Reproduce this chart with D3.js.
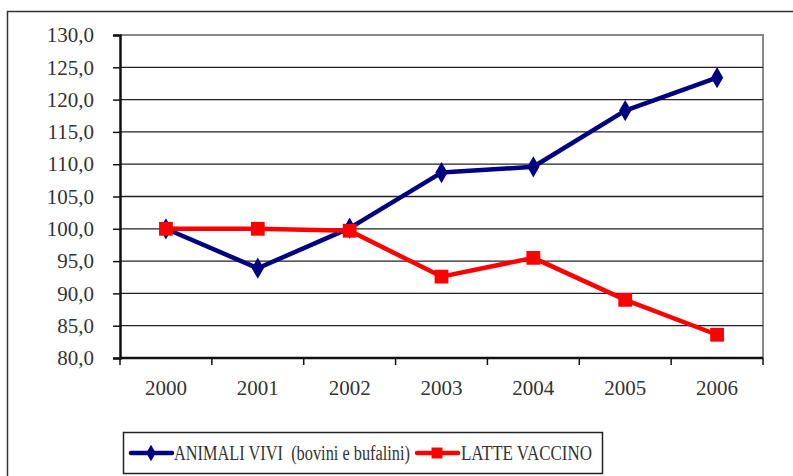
<!DOCTYPE html>
<html>
<head>
<meta charset="utf-8">
<script src="https://cdn.jsdelivr.net/npm/d3@7"></script>
<style>
  body { margin: 0; background: #fff; }
</style>
</head>
<body>
<script>
var width = 793;
var height = 476;
var font = "'Liberation Serif', 'Times New Roman', 'DejaVu Serif', serif";

var years = ["2000", "2001", "2002", "2003", "2004", "2005", "2006"];
var animaliVivi = [100.0, 93.9, 100.1, 108.7, 109.6, 118.3, 123.4];
var latteVaccino = [100.0, 100.0, 99.7, 92.6, 95.5, 89.0, 83.6];
var yTicks = [80, 85, 90, 95, 100, 105, 110, 115, 120, 125, 130];
var seriesNames = ["ANIMALI VIVI \u00a0(bovini e bufalini)", "LATTE VACCINO"];

var plot = { left: 120, top: 35, right: 763, bottom: 358 };

var svg = d3.select("body").append("svg")
    .attr("width", width)
    .attr("height", height);

// outer chart frame (runs off the right and bottom edges)
svg.append("rect")
    .attr("x", 7.5).attr("y", 11.5)
    .attr("width", 800).attr("height", 500)
    .attr("fill", "none")
    .attr("stroke", "#333")
    .attr("stroke-width", 1.5);

var xScale = d3.scaleBand()
    .domain(years)
    .range([plot.left, plot.right]);

var yScale = d3.scaleLinear()
    .domain([80, 130])
    .range([plot.bottom, plot.top]);

// plot area right/top border
svg.append("path")
    .attr("d", "M" + plot.left + "," + plot.top + "H" + plot.right + "V" + plot.bottom)
    .attr("fill", "none")
    .attr("stroke", "#888")
    .attr("stroke-width", 2);

// gridlines
svg.append("g").selectAll("line")
    .data(yTicks.slice(1, -1))
    .enter().append("line")
    .attr("x1", plot.left).attr("x2", plot.right)
    .attr("y1", function(d) { return yScale(d); })
    .attr("y2", function(d) { return yScale(d); })
    .attr("stroke", "#222")
    .attr("stroke-width", 1.3);

// y axis
var yAxis = svg.append("g")
    .attr("transform", "translate(" + plot.left + ",0)")
    .call(d3.axisLeft(yScale)
        .tickValues(yTicks)
        .tickSize(7)
        .tickPadding(19)
        .tickFormat(function(d) { return d3.format(".1f")(d).replace(".", ","); }));
yAxis.attr("font-family", font).attr("font-size", 21);
yAxis.select(".domain").attr("stroke", "#111").attr("stroke-width", 2.5);
yAxis.selectAll(".tick line").attr("stroke", "#111").attr("stroke-width", 1.5);
yAxis.selectAll("text").attr("fill", "#333");

// x axis with ticks between categories
var xAxis = svg.append("g")
    .attr("transform", "translate(0," + plot.bottom + ")");
xAxis.append("line")
    .attr("x1", plot.left).attr("x2", plot.right)
    .attr("stroke", "#111").attr("stroke-width", 2.5);
var boundaries = years.map(function(y) { return xScale(y); }).concat([plot.right]);
xAxis.selectAll(".bt")
    .data(boundaries)
    .enter().append("line")
    .attr("x1", function(d) { return d; })
    .attr("x2", function(d) { return d; })
    .attr("y1", 0).attr("y2", 7)
    .attr("stroke", "#111").attr("stroke-width", 1.5);
xAxis.selectAll("text")
    .data(years)
    .enter().append("text")
    .attr("x", function(d) { return xScale(d) + xScale.bandwidth() / 2; })
    .attr("y", 37)
    .attr("text-anchor", "middle")
    .attr("font-family", font)
    .attr("font-size", 21)
    .attr("fill", "#333")
    .text(function(d) { return d; });

var line = d3.line()
    .x(function(d, i) { return xScale(years[i]) + xScale.bandwidth() / 2; })
    .y(function(d) { return yScale(d); });

function drawSeries(values, color, symbol, size) {
    svg.append("path")
        .datum(values)
        .attr("d", line)
        .attr("fill", "none")
        .attr("stroke", color)
        .attr("stroke-width", 4.5)
        .attr("stroke-linejoin", "round");
    svg.append("g").selectAll("path")
        .data(values)
        .enter().append("path")
        .attr("transform", function(d, i) {
            return "translate(" + (xScale(years[i]) + xScale.bandwidth() / 2) + "," + yScale(d) + ")";
        })
        .attr("d", d3.symbol().type(symbol).size(size))
        .attr("fill", color);
}

drawSeries(animaliVivi, "#000080", d3.symbolDiamond, 130);
drawSeries(latteVaccino, "#ff0000", d3.symbolSquare, 190);

// legend
var legend = svg.append("g");
legend.append("rect")
    .attr("x", 123.5).attr("y", 432.5)
    .attr("width", 479).attr("height", 41)
    .attr("fill", "#fff")
    .attr("stroke", "#222")
    .attr("stroke-width", 1.5);

var legendItems = [
    { name: seriesNames[0], color: "#000080", symbol: d3.symbolDiamond, size: 80, x: 131, tx: 174, len: 236 },
    { name: seriesNames[1], color: "#ff0000", symbol: d3.symbolSquare, size: 120, x: 417, tx: 461, len: 131 }
];
var li = legend.selectAll(".li")
    .data(legendItems)
    .enter().append("g");
li.append("line")
    .attr("x1", function(d) { return d.x; })
    .attr("x2", function(d) { return d.x + 41; })
    .attr("y1", 453).attr("y2", 453)
    .attr("stroke", function(d) { return d.color; })
    .attr("stroke-width", 4.5)
    .attr("stroke-linecap", "round");
li.append("path")
    .attr("transform", function(d) { return "translate(" + (d.x + 20) + ",453)"; })
    .attr("d", function(d) { return d3.symbol().type(d.symbol).size(d.size)(); })
    .attr("fill", function(d) { return d.color; });
li.append("text")
    .attr("x", function(d) { return d.tx; })
    .attr("y", 453)
    .attr("dy", ".35em")
    .attr("font-family", font)
    .attr("font-size", 20)
    .attr("textLength", function(d) { return d.len; })
    .attr("lengthAdjust", "spacingAndGlyphs")
    .attr("fill", "#333")
    .text(function(d) { return d.name; });
</script>
</body>
</html>
